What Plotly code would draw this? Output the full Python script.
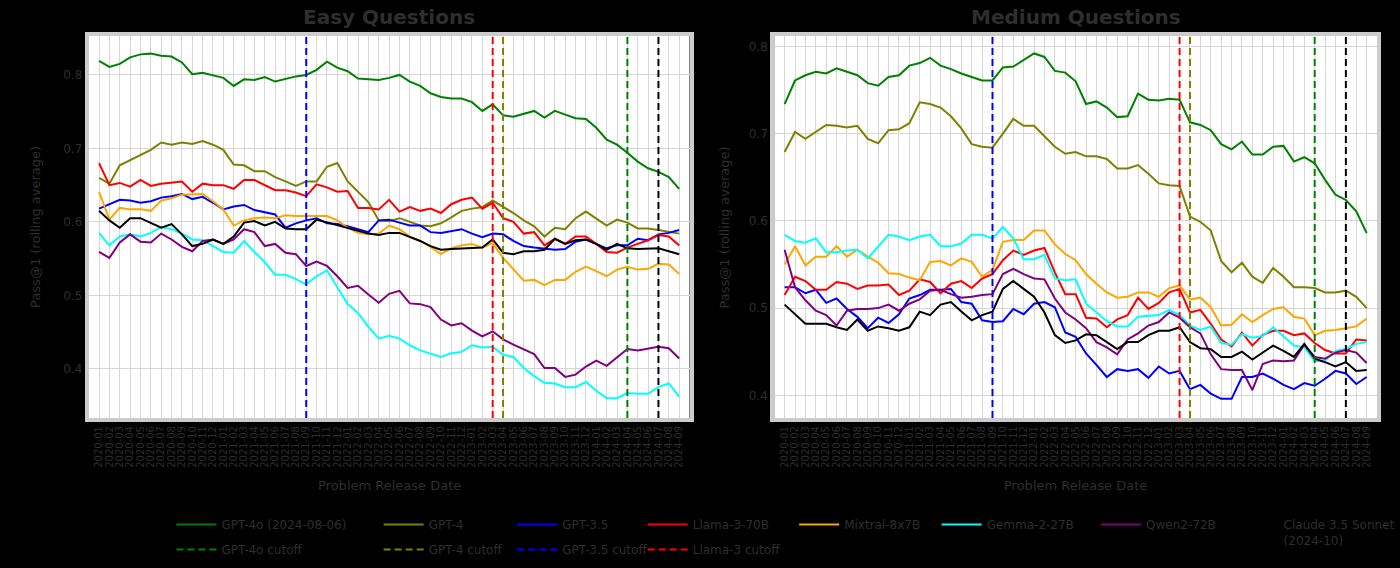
import plotly.graph_objects as go

# ---------------- data ----------------
months = [
    "2020-01", "2020-02", "2020-03", "2020-04", "2020-05", "2020-06", "2020-07", "2020-08", "2020-09", "2020-10", "2020-11", "2020-12",
    "2021-01", "2021-02", "2021-03", "2021-04", "2021-05", "2021-06", "2021-07", "2021-08", "2021-09", "2021-10", "2021-11", "2021-12",
    "2022-01", "2022-02", "2022-03", "2022-04", "2022-05", "2022-06", "2022-07", "2022-08", "2022-09", "2022-10", "2022-11", "2022-12",
    "2023-01", "2023-02", "2023-03", "2023-04", "2023-05", "2023-06", "2023-07", "2023-08", "2023-09", "2023-10", "2023-11", "2023-12",
    "2024-01", "2024-02", "2024-03", "2024-04", "2024-05", "2024-06", "2024-07", "2024-08", "2024-09",
]

model_names = ["GPT-4o (2024-08-06)", "GPT-4", "GPT-3.5", "Llama-3-70B",
               "Mixtral-8x7B", "Gemma-2-27B", "Qwen2-72B", "Claude 3.5 Sonnet<br>(2024-10)"]
model_colors = ["#008000", "#808000", "#0000ff", "#ff0000", "#ffa500", "#00ffff", "#800080", "#000000"]

cutoff_names = ["GPT-4o cutoff", "GPT-4 cutoff", "GPT-3.5 cutoff", "Llama-3 cutoff"]
cutoff_colors = ["#008000", "#808000", "#0000ff", "#ff0000", "#000000"]
cutoff_months = ["2024-04", "2023-04", "2021-09", "2023-03", "2024-07"]

easy_green = [0.819, 0.811, 0.815, 0.824, 0.828, 0.829, 0.826, 0.825, 0.817, 0.801,
              0.803, 0.799, 0.796, 0.785, 0.794, 0.793, 0.797, 0.791, 0.795, 0.798,
              0.800, 0.807, 0.818, 0.810, 0.805, 0.795, 0.794, 0.793, 0.796, 0.800,
              0.791, 0.785, 0.775, 0.770, 0.768, 0.768, 0.763, 0.751, 0.760, 0.745,
              0.743, 0.747, 0.751, 0.742, 0.751, 0.746, 0.741, 0.740, 0.728, 0.712,
              0.705, 0.694, 0.682, 0.673, 0.668, 0.661, 0.645]
easy_olive = [0.660, 0.652, 0.677, 0.684, 0.691, 0.698, 0.708, 0.705, 0.708, 0.706,
              0.710, 0.705, 0.698, 0.678, 0.677, 0.669, 0.669, 0.661, 0.655, 0.649,
              0.655, 0.655, 0.675, 0.680, 0.655, 0.641, 0.627, 0.602, 0.601, 0.605,
              0.600, 0.595, 0.594, 0.598, 0.606, 0.615, 0.618, 0.620, 0.629, 0.621,
              0.612, 0.602, 0.594, 0.580, 0.592, 0.590, 0.605, 0.614, 0.605, 0.595,
              0.603, 0.599, 0.591, 0.591, 0.589, 0.586, 0.584]
easy_blue = [0.618, 0.624, 0.630, 0.629, 0.626, 0.628, 0.633, 0.635, 0.638, 0.631,
             0.634, 0.626, 0.617, 0.621, 0.623, 0.616, 0.613, 0.610, 0.592, 0.598,
             0.602, 0.605, 0.598, 0.597, 0.594, 0.590, 0.586, 0.602, 0.603, 0.599,
             0.595, 0.595, 0.586, 0.585, 0.587, 0.590, 0.584, 0.579, 0.584, 0.583,
             0.574, 0.567, 0.565, 0.563, 0.562, 0.563, 0.573, 0.576, 0.570, 0.564,
             0.568, 0.568, 0.577, 0.575, 0.583, 0.585, 0.589]
easy_red = [0.680, 0.650, 0.653, 0.648, 0.657, 0.649, 0.652, 0.654, 0.655, 0.641,
            0.652, 0.650, 0.650, 0.645, 0.657, 0.657, 0.650, 0.643, 0.643, 0.640,
            0.635, 0.651, 0.647, 0.641, 0.642, 0.619, 0.619, 0.617, 0.630, 0.614,
            0.620, 0.615, 0.618, 0.612, 0.624, 0.630, 0.633, 0.618, 0.626, 0.605,
            0.600, 0.584, 0.586, 0.568, 0.577, 0.570, 0.580, 0.580, 0.570, 0.559,
            0.558, 0.565, 0.570, 0.575, 0.582, 0.580, 0.568]
easy_orange = [0.641, 0.603, 0.619, 0.617, 0.617, 0.615, 0.629, 0.632, 0.637, 0.638,
               0.638, 0.628, 0.617, 0.595, 0.602, 0.605, 0.606, 0.605, 0.609, 0.608,
               0.608, 0.608, 0.608, 0.602, 0.592, 0.585, 0.583, 0.584, 0.595, 0.590,
               0.580, 0.574, 0.566, 0.556, 0.564, 0.568, 0.570, 0.565, 0.571, 0.551,
               0.536, 0.520, 0.521, 0.514, 0.521, 0.521, 0.532, 0.539, 0.533, 0.526,
               0.535, 0.539, 0.535, 0.536, 0.543, 0.542, 0.529]
easy_cyan = [0.585, 0.568, 0.580, 0.583, 0.580, 0.585, 0.593, 0.590, 0.584, 0.576,
             0.575, 0.567, 0.559, 0.558, 0.574, 0.559, 0.545, 0.528, 0.528, 0.522,
             0.515, 0.526, 0.534, 0.511, 0.488, 0.476, 0.457, 0.441, 0.445, 0.441,
             0.432, 0.425, 0.421, 0.416, 0.421, 0.423, 0.432, 0.429, 0.430, 0.419,
             0.416, 0.401, 0.390, 0.381, 0.380, 0.375, 0.375, 0.382, 0.370, 0.360,
             0.360, 0.367, 0.366, 0.366, 0.375, 0.380, 0.362]
easy_purple = [0.559, 0.551, 0.572, 0.583, 0.573, 0.572, 0.584, 0.576, 0.566, 0.560,
               0.574, 0.576, 0.570, 0.576, 0.590, 0.586, 0.567, 0.570, 0.558, 0.556,
               0.540, 0.546, 0.540, 0.526, 0.510, 0.513, 0.501, 0.490, 0.502, 0.506,
               0.489, 0.488, 0.484, 0.467, 0.459, 0.462, 0.452, 0.444, 0.451, 0.440,
               0.433, 0.427, 0.420, 0.401, 0.401, 0.389, 0.392, 0.403, 0.411, 0.404,
               0.416, 0.427, 0.425, 0.428, 0.430, 0.428, 0.414]
easy_black = [0.615, 0.602, 0.592, 0.605, 0.605, 0.599, 0.592, 0.597, 0.583, 0.567,
              0.570, 0.576, 0.570, 0.580, 0.599, 0.601, 0.595, 0.600, 0.591, 0.590,
              0.590, 0.603, 0.599, 0.595, 0.592, 0.588, 0.584, 0.582, 0.585, 0.585,
              0.580, 0.574, 0.567, 0.562, 0.563, 0.564, 0.564, 0.565, 0.576, 0.558,
              0.556, 0.560, 0.560, 0.562, 0.577, 0.570, 0.575, 0.576, 0.570, 0.562,
              0.570, 0.564, 0.563, 0.564, 0.564, 0.560, 0.556]

medium_green = [0.734, 0.761, 0.767, 0.771, 0.769, 0.775, 0.771, 0.767, 0.758, 0.755,
                0.765, 0.767, 0.778, 0.781, 0.787, 0.778, 0.774, 0.769, 0.765, 0.761,
                0.761, 0.776, 0.777, 0.785, 0.792, 0.788, 0.772, 0.770, 0.760, 0.734,
                0.737, 0.730, 0.719, 0.720, 0.746, 0.739, 0.738, 0.740, 0.739, 0.713,
                0.710, 0.704, 0.688, 0.682, 0.691, 0.676, 0.676, 0.685, 0.686, 0.668,
                0.673, 0.666, 0.647, 0.630, 0.624, 0.611, 0.586]
medium_olive = [0.679, 0.702, 0.694, 0.702, 0.710, 0.709, 0.707, 0.709, 0.694, 0.689,
                0.704, 0.705, 0.712, 0.736, 0.734, 0.730, 0.720, 0.706, 0.688, 0.685,
                0.684, 0.700, 0.717, 0.709, 0.709, 0.697, 0.685, 0.677, 0.679, 0.674,
                0.674, 0.671, 0.660, 0.660, 0.664, 0.654, 0.643, 0.641, 0.640, 0.605,
                0.599, 0.589, 0.554, 0.541, 0.552, 0.536, 0.529, 0.546, 0.536, 0.524,
                0.524, 0.523, 0.518, 0.518, 0.520, 0.513, 0.500]
medium_blue = [0.524, 0.524, 0.517, 0.521, 0.506, 0.511, 0.499, 0.490, 0.477, 0.489,
               0.483, 0.493, 0.511, 0.515, 0.521, 0.521, 0.522, 0.507, 0.505, 0.486,
               0.484, 0.485, 0.499, 0.493, 0.505, 0.507, 0.501, 0.472, 0.467, 0.448,
               0.435, 0.421, 0.430, 0.428, 0.430, 0.420, 0.433, 0.425, 0.428, 0.407,
               0.412, 0.402, 0.396, 0.396, 0.421, 0.421, 0.425, 0.419, 0.412, 0.407,
               0.414, 0.411, 0.419, 0.428, 0.425, 0.413, 0.421]
medium_red = [0.515, 0.536, 0.531, 0.521, 0.521, 0.530, 0.528, 0.522, 0.526, 0.526,
              0.527, 0.515, 0.520, 0.533, 0.530, 0.517, 0.528, 0.531, 0.523, 0.534,
              0.539, 0.555, 0.566, 0.561, 0.566, 0.569, 0.541, 0.516, 0.516, 0.489,
              0.488, 0.478, 0.487, 0.492, 0.512, 0.499, 0.506, 0.518, 0.522, 0.495,
              0.498, 0.482, 0.464, 0.456, 0.472, 0.457, 0.469, 0.474, 0.474, 0.469,
              0.471, 0.460, 0.452, 0.448, 0.448, 0.464, 0.463]
medium_orange = [0.550, 0.571, 0.549, 0.559, 0.559, 0.571, 0.559, 0.567, 0.559, 0.552,
                 0.540, 0.539, 0.535, 0.532, 0.553, 0.554, 0.549, 0.557, 0.553, 0.536,
                 0.544, 0.576, 0.578, 0.578, 0.589, 0.589, 0.573, 0.562, 0.555, 0.539,
                 0.528, 0.518, 0.512, 0.513, 0.518, 0.518, 0.513, 0.523, 0.526, 0.510,
                 0.512, 0.501, 0.480, 0.481, 0.493, 0.484, 0.492, 0.499, 0.501, 0.490,
                 0.488, 0.469, 0.474, 0.475, 0.477, 0.479, 0.488]
medium_cyan = [0.584, 0.577, 0.575, 0.580, 0.564, 0.564, 0.566, 0.567, 0.557, 0.570,
               0.584, 0.582, 0.578, 0.582, 0.584, 0.571, 0.571, 0.574, 0.584, 0.584,
               0.580, 0.593, 0.580, 0.556, 0.556, 0.561, 0.534, 0.532, 0.533, 0.505,
               0.495, 0.485, 0.479, 0.479, 0.490, 0.491, 0.492, 0.498, 0.492, 0.480,
               0.475, 0.479, 0.460, 0.458, 0.470, 0.466, 0.468, 0.478, 0.467, 0.457,
               0.455, 0.439, 0.440, 0.451, 0.453, 0.459, 0.461]
medium_purple = [0.567, 0.524, 0.509, 0.497, 0.492, 0.480, 0.497, 0.499, 0.499, 0.500,
                 0.504, 0.497, 0.505, 0.510, 0.520, 0.521, 0.516, 0.512, 0.513, 0.515,
                 0.516, 0.539, 0.545, 0.539, 0.534, 0.533, 0.511, 0.495, 0.487, 0.477,
                 0.461, 0.455, 0.447, 0.464, 0.471, 0.480, 0.484, 0.495, 0.489, 0.478,
                 0.471, 0.447, 0.430, 0.429, 0.429, 0.406, 0.436, 0.440, 0.439, 0.440,
                 0.458, 0.444, 0.442, 0.449, 0.452, 0.449, 0.437]
medium_black = [0.504, 0.493, 0.482, 0.482, 0.482, 0.478, 0.475, 0.487, 0.474, 0.479,
                0.477, 0.474, 0.478, 0.496, 0.492, 0.504, 0.507, 0.496, 0.486, 0.492,
                0.496, 0.522, 0.531, 0.522, 0.513, 0.495, 0.469, 0.460, 0.463, 0.470,
                0.469, 0.461, 0.453, 0.461, 0.461, 0.469, 0.474, 0.474, 0.478, 0.461,
                0.454, 0.453, 0.444, 0.444, 0.450, 0.441, 0.449, 0.457, 0.451, 0.444,
                0.459, 0.442, 0.438, 0.433, 0.438, 0.428, 0.429]

panel_titles = ["Easy Questions", "Medium Questions"]
x_title = "Problem Release Date"
y_title = "Pass@1 (rolling average)"
y_ticks = [0.4, 0.5, 0.6, 0.7, 0.8]

easy_series = [easy_green, easy_olive, easy_blue, easy_red, easy_orange, easy_cyan, easy_purple, easy_black]
medium_series = [medium_green, medium_olive, medium_blue, medium_red, medium_orange, medium_cyan, medium_purple, medium_black]

# ---------------- figure ----------------
W, H = 1400, 568
TXT = "#2e2e2e"
FONT = "DejaVu Sans"

fig = go.Figure()
xs = list(range(len(months)))
legend_ids = ["legend"] + [f"legend{k}" for k in range(2, 9)]

for k, (name, col) in enumerate(zip(model_names, model_colors)):
    fig.add_trace(go.Scatter(x=xs, y=easy_series[k], mode="lines", name=name,
                             line=dict(color=col, width=2), xaxis="x", yaxis="y",
                             legend=legend_ids[k], legendgroup=f"m{k}", showlegend=True))
    fig.add_trace(go.Scatter(x=xs, y=medium_series[k], mode="lines", name=name,
                             line=dict(color=col, width=2), xaxis="x2", yaxis="y2",
                             legendgroup=f"m{k}", showlegend=False))
    if k < len(cutoff_names):
        fig.add_trace(go.Scatter(x=[None], y=[None], mode="lines", name=cutoff_names[k],
                                 line=dict(color=cutoff_colors[k], width=2, dash="7px,4px"),
                                 xaxis="x", yaxis="y", legend=legend_ids[k],
                                 legendgroup=f"c{k}", showlegend=True))

shapes = []
for col, m in zip(cutoff_colors, cutoff_months):
    xi = months.index(m)
    for xr, yr in (("x", "y domain"), ("x2", "y2 domain")):
        shapes.append(dict(type="line", xref=xr, yref=yr, x0=xi, x1=xi, y0=0, y1=1,
                           line=dict(color=col, width=2, dash="7px,4px"), layer="above"))

def px_x(p):
    return p / W

def px_y(p):
    return 1 - p / H

ydom = [px_y(418), px_y(36)]
axis_common = dict(showgrid=True, gridcolor="#d6d6d6", gridwidth=1, zeroline=False,
                   showline=True, mirror=True, linecolor="#cccccc", linewidth=4,
                   ticks="", tickfont=dict(color=TXT, family=FONT))
xaxis_common = dict(axis_common, range=[-1, 57], tickvals=xs, ticktext=months,
                    tickangle=-90, tickfont=dict(color=TXT, family=FONT, size=10))

fig.update_layout(
    width=W, height=H,
    paper_bgcolor="#000000", plot_bgcolor="#ffffff",
    margin=dict(l=0, r=0, t=0, b=0),
    font=dict(family=FONT, color=TXT, size=12),
    xaxis=dict(xaxis_common, domain=[px_x(89), px_x(692)], anchor="y"),
    yaxis=dict(axis_common, domain=ydom, range=[0.333, 0.853], tickvals=y_ticks,
               tickformat=".1f", anchor="x", tickfont=dict(color=TXT, family=FONT, size=12)),
    xaxis2=dict(xaxis_common, domain=[px_x(777), px_x(1382)], anchor="y2"),
    yaxis2=dict(axis_common, domain=ydom, range=[0.374, 0.812], tickvals=y_ticks,
                tickformat=".1f", anchor="x2", tickfont=dict(color=TXT, family=FONT, size=12)),
    shapes=shapes,
)

# legends: one per column
col_x = [172, 380, 514, 645, 797, 940, 1100, 1238]
for k, lid in enumerate(legend_ids):
    fig.update_layout({lid: dict(x=px_x(col_x[k]), y=px_y(510), xanchor="left", yanchor="top",
                                 orientation="v", bgcolor="rgba(0,0,0,0)", borderwidth=0,
                                 font=dict(size=12, color=TXT, family=FONT),
                                 tracegroupgap=6, itemwidth=40)})

annotations = []
centers = [(89 + 692) / 2, (777 + 1382) / 2]
for c, t in zip(centers, panel_titles):
    annotations.append(dict(text=f"<b>{t}</b>", x=px_x(c), y=px_y(17), xref="paper", yref="paper",
                            xanchor="center", yanchor="middle", showarrow=False,
                            font=dict(size=20, color=TXT, family=FONT)))
    annotations.append(dict(text=x_title, x=px_x(c), y=px_y(485), xref="paper", yref="paper",
                            xanchor="center", yanchor="middle", showarrow=False,
                            font=dict(size=13, color=TXT, family=FONT)))
for xp in (35, 727):
    annotations.append(dict(text=y_title, x=px_x(xp), y=(ydom[0] + ydom[1]) / 2, xref="paper",
                            yref="paper", xanchor="center", yanchor="middle", showarrow=False,
                            textangle=-90, font=dict(size=13, color=TXT, family=FONT)))
fig.update_layout(annotations=annotations)

fig.write_html("out.html", config={"displayModeBar": False},
               post_script="document.body.style.margin='0';document.body.style.background='#000';")
